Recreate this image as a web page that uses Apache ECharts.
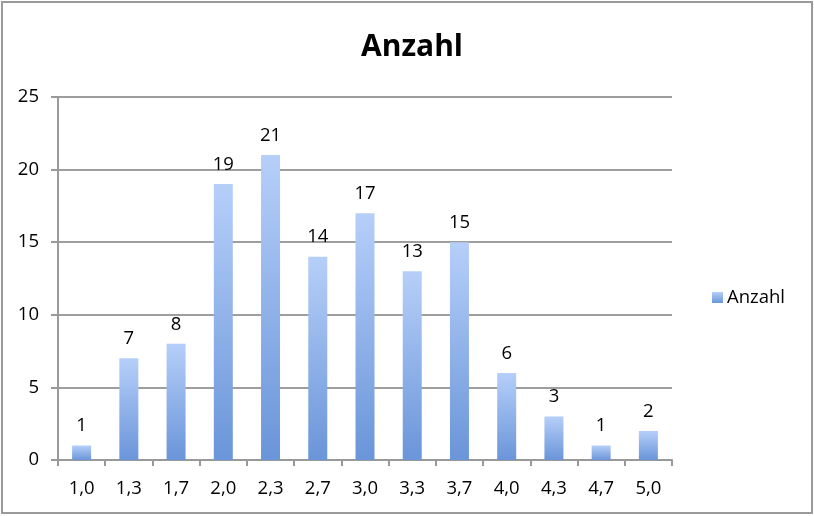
<!DOCTYPE html>
<html><head><meta charset="utf-8">
<script src="https://cdn.jsdelivr.net/npm/echarts@6/dist/echarts.min.js"></script>
<style>html,body{margin:0;padding:0;background:#fff}#c{width:814px;height:516px}</style>
</head><body><div id="c"></div>
<script>
const categories = ["1,0","1,3","1,7","2,0","2,3","2,7","3,0","3,3","3,7","4,0","4,3","4,7","5,0"];
const values = [1,7,8,19,21,14,17,13,15,6,3,1,2];
const seriesName = "Anzahl";
const titleText = "Anzahl";

const chart = echarts.init(document.getElementById('c'), null, {renderer:'canvas'});
const grad = new echarts.graphic.LinearGradient(0,0,0,1,[{offset:0,color:'#b6cff9'},{offset:1,color:'#6a95d9'}]);
const font = "Open Sans";
chart.setOption({
  animation:false,
  backgroundColor:'#fff',
  graphic:[{type:'rect',shape:{x:2,y:2,width:810,height:511},style:{fill:'none',stroke:'#9a9a9a',lineWidth:2},silent:true}],
  title:{text:titleText,left:407,textAlign:'center',top:27,textStyle:{fontFamily:font,fontWeight:'bold',fontSize:30,color:'#000'}},
  legend:{data:[seriesName],left:707,top:283,orient:'vertical',itemWidth:11,itemHeight:11,itemGap:5,icon:'rect',
    textStyle:{fontFamily:font,fontSize:18.5,color:'#000',padding:[0,0,0,-1]}},
  grid:{left:58,right:142,top:97,bottom:56,containLabel:false},
  xAxis:{type:'category',data:categories,
    axisLine:{lineStyle:{color:'#999',width:2}},
    axisTick:{show:true,length:6,lineStyle:{color:'#999',width:2},alignWithLabel:false},
    axisLabel:{fontFamily:font,fontSize:18.5,color:'#000',margin:19}},
  yAxis:{type:'value',min:0,max:25,interval:5,
    axisLine:{show:true,lineStyle:{color:'#999',width:2}},
    axisTick:{show:true,length:7,lineStyle:{color:'#999',width:2}},
    splitLine:{lineStyle:{color:'#9e9e9e',width:2}},
    axisLabel:{fontFamily:font,fontSize:18.5,color:'#000',margin:19}},
  series:[{name:seriesName,type:'bar',data:values,barWidth:19,
    itemStyle:{color:grad},
    label:{show:true,position:'top',distance:10,fontFamily:font,fontSize:18.5,color:'#000'}}]
});
</script></body></html>
